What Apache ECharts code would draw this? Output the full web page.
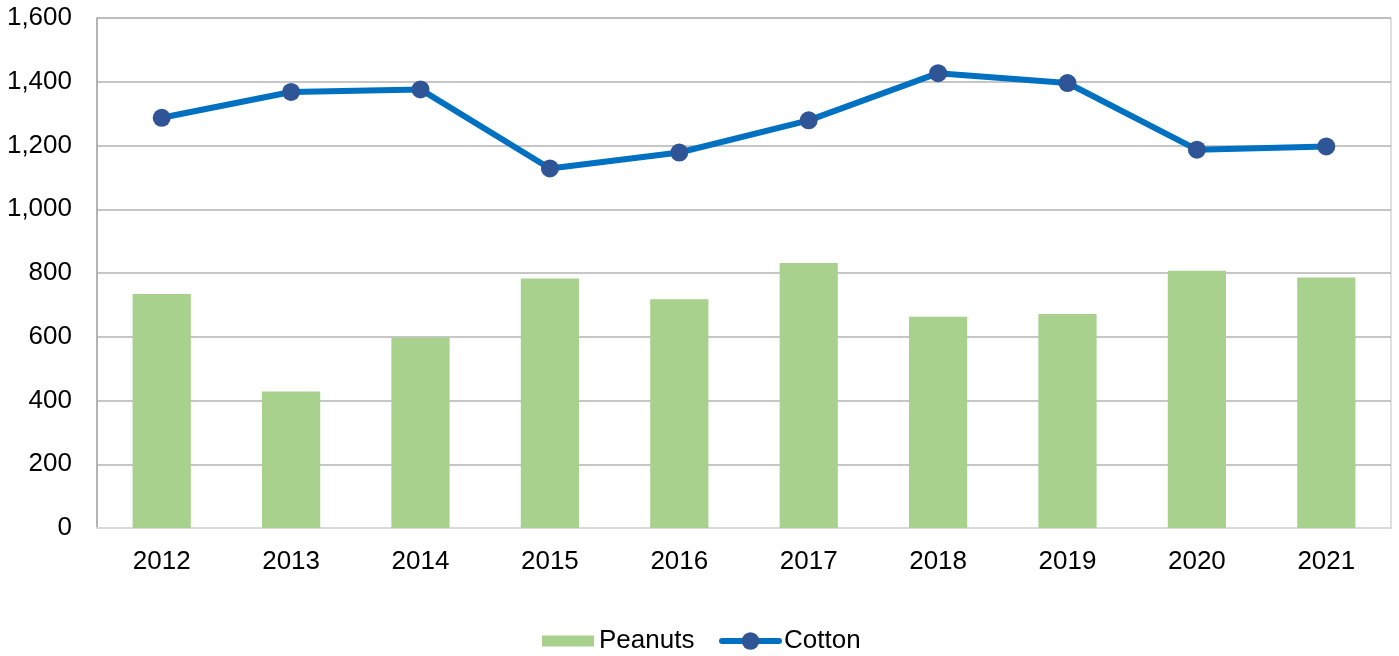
<!DOCTYPE html>
<html>
<head>
<meta charset="utf-8">
<script src="https://cdn.jsdelivr.net/npm/echarts@6/dist/echarts.min.js"></script>
<style>
html,body{margin:0;padding:0;background:#fff;}
#main{width:1399px;height:656px;}
</style>
</head>
<body>
<div id="main"></div>
<script>
const years = ['2012','2013','2014','2015','2016','2017','2018','2019','2020','2021'];
const peanuts = [734, 428, 598, 783, 718, 831, 663, 671, 807, 786];
const cotton = [1287, 1368, 1376, 1128, 1178, 1279, 1427, 1396, 1187, 1197];

const font = '"Liberation Sans", Arial, sans-serif';
const chart = echarts.init(document.getElementById('main'), null, {renderer: 'canvas'});
chart.setOption({
  animation: false,
  backgroundColor: '#ffffff',
  grid: {
    left: 97, right: 8, top: 18, bottom: 128,
    show: true, borderColor: '#bfbfbf', borderWidth: 1, backgroundColor: 'transparent'
  },
  legend: [
    {
      left: 542,
      top: 628,
      padding: 0,
      itemWidth: 52,
      itemHeight: 11,
      itemGap: 6,
      textStyle: {fontFamily: font, fontSize: 26, color: '#000'},
      data: [{name: 'Peanuts', icon: 'rect'}]
    },
    {
      left: 719,
      top: 628,
      padding: 0,
      itemWidth: 57,
      itemHeight: 22,
      itemGap: 6,
      lineStyle: {width: 6, color: '#0070c0', cap: 'round'},
      itemStyle: {color: '#2f5597'},
      textStyle: {fontFamily: font, fontSize: 26, color: '#000'},
      data: [{name: 'Cotton'}]
    }
  ],
  xAxis: {
    type: 'category',
    data: years,
    axisLine: {show: true, lineStyle: {color: '#d9d9d9', width: 2}},
    axisTick: {show: false},
    axisLabel: {fontFamily: font, fontSize: 26, color: '#000', margin: 21}
  },
  yAxis: {
    type: 'value',
    min: 0, max: 1600, interval: 200,
    axisLine: {show: true, lineStyle: {color: '#a6a6a6', width: 1.5}},
    axisTick: {show: false},
    splitLine: {show: true, lineStyle: {color: '#b3b3b3', width: 1.5}},
    axisLabel: {
      fontFamily: font, fontSize: 26, color: '#000', margin: 25,
      formatter: v => v.toLocaleString('en-US')
    }
  },
  series: [
    {
      name: 'Peanuts',
      type: 'bar',
      data: peanuts,
      barWidth: '45%',
      itemStyle: {color: '#a9d18e'}
    },
    {
      name: 'Cotton',
      type: 'line',
      data: cotton,
      symbol: 'circle',
      symbolSize: 18,
      lineStyle: {color: '#0070c0', width: 6},
      itemStyle: {color: '#2f5597'},
      z: 5
    }
  ]
});
</script>
</body>
</html>
